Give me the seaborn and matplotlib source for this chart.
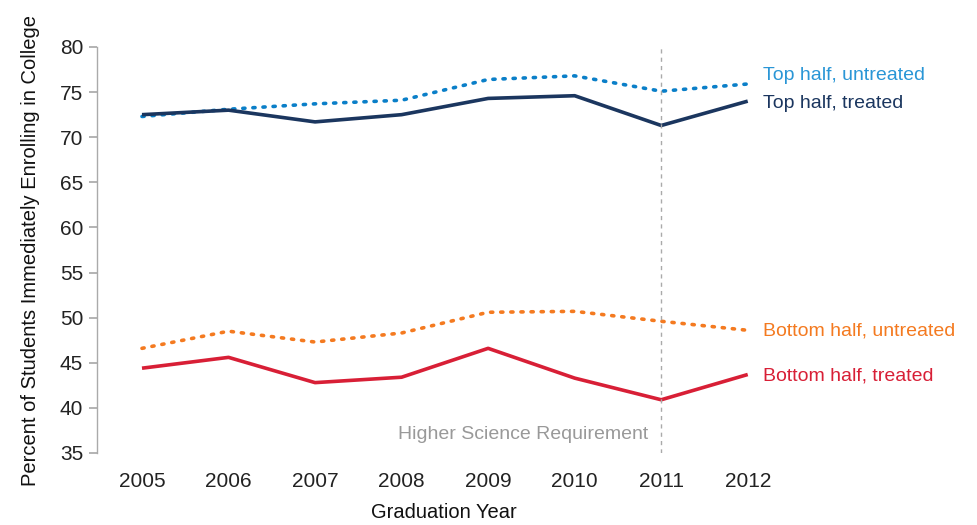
import matplotlib
matplotlib.use("Agg")
import matplotlib.pyplot as plt
import seaborn as sns
import pandas as pd

years = [2005, 2006, 2007, 2008, 2009, 2010, 2011, 2012]
top_untreated = [72.3, 73.1, 73.7, 74.1, 76.4, 76.8, 75.1, 75.9]
top_treated = [72.5, 73.0, 71.7, 72.5, 74.3, 74.6, 71.3, 74.0]
bottom_untreated = [46.6, 48.5, 47.3, 48.3, 50.6, 50.7, 49.6, 48.6]
bottom_treated = [44.4, 45.6, 42.8, 43.4, 46.6, 43.3, 40.9, 43.7]
series_names = ["Top half, untreated", "Top half, treated",
                "Bottom half, untreated", "Bottom half, treated"]
yticks = [35, 40, 45, 50, 55, 60, 65, 70, 75, 80]

sns.set_theme(style="white")
plt.rcParams['font.family'] = ['Liberation Sans', 'DejaVu Sans']

fig = plt.figure(figsize=(9.77, 5.25), dpi=100)
ax = fig.add_axes([97/977, 1 - 453/525, (791 - 97)/977, (453 - 47)/525])

styles = [
    (top_untreated, "#0a7fc8", "#2a96d6", (0, (0.6, 2.2)), 2.6),
    (top_treated, "#1b365f", "#1b365f", "-", 2.6),
    (bottom_untreated, "#f47a20", "#f47a20", (0, (0.6, 2.2)), 2.6),
    (bottom_treated, "#d81f36", "#d81f36", "-", 2.6),
]
label_offsets = [0.9, -0.3, -0.1, -0.2]
for name, (vals, c, tc, ls, lw), off in zip(series_names, styles, label_offsets):
    df = pd.DataFrame({"year": years, "value": vals})
    sns.lineplot(data=df, x="year", y="value", ax=ax, color=c, linewidth=lw,
                 linestyle=ls, dash_capstyle="round", solid_capstyle="butt")
    ax.text(years[-1] + 0.18, vals[-1] + off, name, color=tc, fontsize=14,
            va="center", ha="left", clip_on=False)

ax.axvline(2011, color="#aaaaaa", linestyle=(0, (3, 3)), linewidth=1)
ax.text(2010.85, 37.1, "Higher Science Requirement", color="#999999",
        fontsize=14, ha="right", va="center")

ax.set_xlim(2004.48, 2012.5)
ax.set_ylim(35, 80)
ax.set_yticks(yticks)
ax.set_xticks(years)
ax.set_xticklabels([str(y) for y in years])
ax.tick_params(axis="y", left=True, length=6, color="#aaaaaa", labelsize=15,
               pad=4, labelcolor="#222222")
ax.tick_params(axis="x", bottom=False, labelsize=15, pad=8, labelcolor="#222222")
for s in ["top", "right", "bottom"]:
    ax.spines[s].set_visible(False)
ax.spines["left"].set_color("#aaaaaa")
ax.spines["left"].set_linewidth(1)
ax.set_xlabel("Graduation Year", fontsize=14.5, labelpad=8, color="#111111")
ax.set_ylabel("Percent of Students Immediately Enrolling in College",
              fontsize=14.5, labelpad=14, color="#111111")
ax.grid(False)

fig.savefig("out.png", dpi=100)
